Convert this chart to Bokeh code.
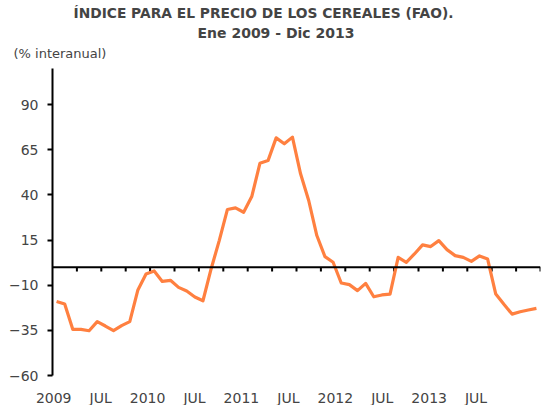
from bokeh.plotting import figure
from bokeh.models import FixedTicker, Title, Span, Range1d
from bokeh.embed import file_html
from bokeh.resources import INLINE

# Monthly year-on-year % change, Jan 2009 - Dec 2013
values = [
    -19.0, -20.4, -34.5, -34.5, -35.2, -30.2, -32.6, -35.2, -32.4, -30.2, -12.6, -3.8,
    -2.1, -7.9, -7.3, -11.2, -13.2, -16.5, -18.6, -1.0, 14.7, 31.9, 32.8, 30.4,
    39.1, 57.5, 59.0, 71.6, 68.3, 72.0, 51.7, 36.9, 17.5, 5.8, 2.7, -8.8,
    -9.7, -13.0, -9.0, -16.4, -15.4, -14.9, 5.4, 2.7, 7.3, 12.3, 11.4, 14.7,
    9.7, 6.4, 5.4, 3.2, 6.2, 4.5, -14.9, -20.6, -26.0, -24.7, -23.7, -22.8,
]
x_labels = ["2009", "JUL", "2010", "JUL", "2011", "JUL", "2012", "JUL", "2013", "JUL"]
y_ticks = [-60, -35, -10, 15, 40, 65, 90]

FONT = "DejaVu Sans"
n = len(values)
xs = [i + 0.5 for i in range(n)]

p = figure(output_backend="svg", toolbar_location=None,
           title=None, frame_width=488, frame_height=307,
           x_range=Range1d(0, n), y_range=Range1d(-60, 110),
           min_border_left=52, min_border_right=2, min_border_top=0, min_border_bottom=0)
p.outline_line_color = None
p.grid.grid_line_color = None
p.background_fill_color = "white"
p.border_fill_color = "white"

# y axis
p.yaxis.ticker = FixedTicker(ticks=y_ticks)
p.yaxis.axis_line_width = 2
p.yaxis.axis_line_color = "black"
p.yaxis.major_tick_line_width = 2
p.yaxis.major_tick_out = 5
p.yaxis.major_tick_in = 0
p.yaxis.minor_tick_line_color = None
p.yaxis.major_label_text_font = FONT
p.yaxis.major_label_text_font_size = "14px"
p.yaxis.major_label_standoff = 9

# x axis: labels only
label_start, label_step = 0.15, 5.77
label_pos = [label_start + k * label_step for k in range(len(x_labels))]
p.xaxis.ticker = FixedTicker(ticks=label_pos)
p.xaxis.major_label_overrides = {pos: lab for pos, lab in zip(label_pos, x_labels)}
p.xaxis.axis_line_color = None
p.xaxis.major_tick_line_color = None
p.xaxis.minor_tick_line_color = None
p.xaxis.major_tick_out = 0
p.xaxis.major_tick_in = 0
p.xaxis.major_label_standoff = 14
p.xaxis.major_label_text_font = FONT
p.xaxis.major_label_text_font_size = "14px"

# zero line with ticks every quarter
p.add_layout(Span(location=0, dimension="width", line_color="black", line_width=2))
qt = list(range(3, n + 1, 3))
p.segment(x0=qt, y0=[0] * len(qt), x1=qt, y1=[-2.4] * len(qt), line_color="black", line_width=2)

p.line(xs, values, line_color="#FF8040", line_width=3.2, line_join="round")

# titles (later added = higher)
p.add_layout(Title(text="(% interanual)", align="left", offset=-39, text_font=FONT,
                   text_font_size="13px", text_font_style="normal", standoff=11,
                   vertical_align="top"), "above")
p.add_layout(Title(text="Ene 2009 - Dic 2013", align="left", offset=145, text_font=FONT,
                   text_font_size="14px", text_font_style="bold", standoff=0), "above")
p.add_layout(Title(text="ÍNDICE PARA EL PRECIO DE LOS CEREALES (FAO).", align="left", offset=21,
                   text_font=FONT, text_font_size="13.8px", text_font_style="bold", standoff=4), "above")

open("out.html", "w").write(file_html(p, INLINE))
